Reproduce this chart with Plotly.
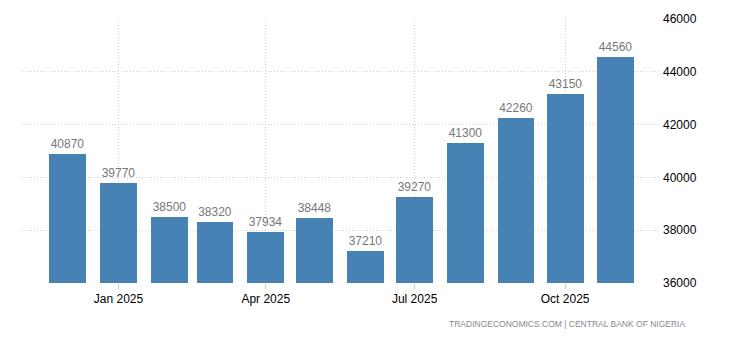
import plotly.graph_objects as go

months = ["2024-12-01", "2025-01-01", "2025-02-01", "2025-03-01", "2025-04-01", "2025-05-01",
          "2025-06-01", "2025-07-01", "2025-08-01", "2025-09-01", "2025-10-01", "2025-11-01"]
values = [40870, 39770, 38500, 38320, 37934, 38448, 37210, 39270, 41300, 42260, 43150, 44560]
tick_dates = ["2025-01-01", "2025-04-01", "2025-07-01", "2025-10-01"]
tick_labels = ["Jan 2025", "Apr 2025", "Jul 2025", "Oct 2025"]
y_ticks = [36000, 38000, 40000, 42000, 44000, 46000]

DAY = 86400000
fig = go.Figure(go.Bar(
    x=months, y=values,
    width=[22.5 * DAY] * len(values),
    marker=dict(color="#4682B4", line=dict(width=0)),
    text=[str(v) for v in values],
    textposition="outside",
    textfont=dict(family="Arial", size=12, color="#777777"),
    cliponaxis=False,
))

fig.update_layout(
    width=730, height=340,
    margin=dict(l=22, r=70, t=19, b=57),
    plot_bgcolor="white", paper_bgcolor="white",
    showlegend=False,
    bargap=0,
    font=dict(family="Arial", size=12, color="#000"),
    xaxis=dict(
        type="date",
        range=["2024-11-03", "2025-11-28"],
        tickvals=tick_dates, ticktext=tick_labels,
        showgrid=True, gridcolor="#cfcfcf", griddash="1px,2px", gridwidth=1,
        ticks="outside", ticklen=5, tickcolor="#cccccc",
        showline=False, zeroline=False,
        tickfont=dict(family="Arial", size=12, color="#000"),
    ),
    yaxis=dict(
        side="right",
        range=[36000, 46000],
        tickvals=y_ticks, ticktext=[str(t) for t in y_ticks],
        showgrid=True, gridcolor="#cfcfcf", griddash="1px,2px", gridwidth=1,
        zeroline=False, showline=False,
        tickfont=dict(family="Arial", size=12, color="#000"),
        ticklabelstandoff=2,
    ),
    annotations=[dict(
        text="TRADINGECONOMICS.COM | CENTRAL BANK OF NIGERIA",
        xref="paper", yref="paper", x=(687 - 22) / 638, y=0, yshift=-48,
        xanchor="right", yanchor="bottom", showarrow=False,
        font=dict(family="Arial", size=8.5, color="#888888"),
    )],
)

fig.write_html("out.html")
